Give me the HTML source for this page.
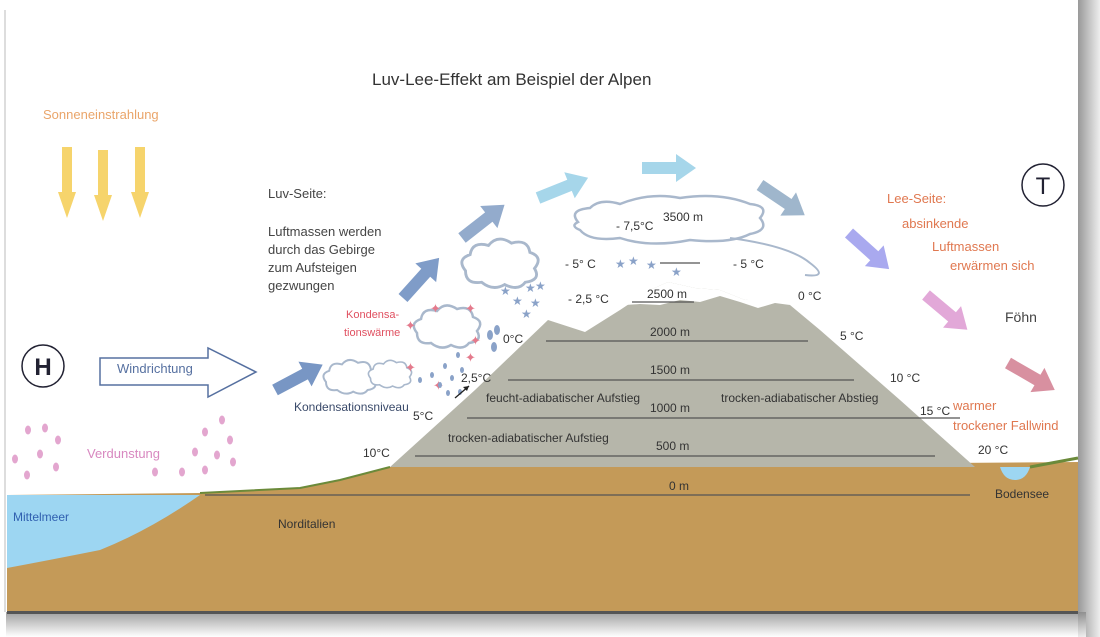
<!DOCTYPE html>
<html><head><meta charset="utf-8"><style>
html,body{margin:0;padding:0;background:#fff;}
svg{display:block;font-family:"Liberation Sans",sans-serif;}
</style></head><body>
<svg width="1100" height="637" viewBox="0 0 1100 637" xmlns="http://www.w3.org/2000/svg">
<defs>
<linearGradient id="sh" x1="0" x2="0" y1="0" y2="1"><stop offset="0" stop-color="#888"/><stop offset="1" stop-color="#fff"/></linearGradient>
<linearGradient id="shr" x1="0" x2="1" y1="0" y2="0"><stop offset="0" stop-color="#999"/><stop offset="1" stop-color="#eee"/></linearGradient>
<g id="ar"><polygon points="0,-6 34,-6 34,-14 54,0 34,14 34,6 0,6"/></g>
<g id="cl"><path d="M-30,5 q-8,-10 4,-14 q2,-12 16,-8 q8,-10 20,-2 q14,-4 16,8 q12,4 4,14 q6,10 -8,12 q-6,8 -18,2 q-10,6 -20,-2 q-14,2 -14,-10z" fill="#fff" stroke="#a9b8cc" stroke-width="2.5"/></g>
</defs>
<rect x="1078" y="0" width="22" height="637" fill="url(#shr)"/>
<rect x="6" y="612" width="1080" height="25" fill="url(#sh)" opacity="0.8"/>
<line x1="5" y1="10" x2="5" y2="612" stroke="#ddd" stroke-width="2"/>
<path d="M7,495 L200,493 L300,488 L340,480 L390,467 L1078,462 L1078,614 L7,614Z" fill="#c49a58"/>
<path d="M200,493 L300,488 L340,480 L390,467" fill="none" stroke="#6b8a3a" stroke-width="2"/>
<path d="M1030,467 L1078,458" fill="none" stroke="#6b8a3a" stroke-width="3"/>
<path d="M7,495 L200,495 Q150,530 100,550 Q50,560 7,568Z" fill="#9dd6f2"/>
<path d="M1000,467 L1030,467 Q1026,480 1015,480 Q1004,480 1000,467Z" fill="#9dd6f2"/>
<rect x="7" y="611" width="1071" height="3" fill="#555"/>
<path d="M390,467 L475,390 L548,320 L585,332 L620,310 L650,290 L668,282 L695,288 L720,290 L745,300 L770,298 L790,305 L820,330 L900,400 L975,467Z" fill="#b6b6aa"/>
<path d="M625,305 L650,290 L668,282 L695,288 L720,290 L745,300 L770,296 L790,305 L775,303 L758,308 L740,302 L720,296 L700,302 L680,300 L660,305 L640,304Z" fill="#fff"/>
<g stroke="#555" stroke-width="1.3">
<line x1="205" y1="495" x2="970" y2="495"/>
<line x1="415" y1="456" x2="935" y2="456"/>
<line x1="467" y1="418" x2="960" y2="418"/>
<line x1="508" y1="380" x2="854" y2="380"/>
<line x1="546" y1="341" x2="808" y2="341"/>
<line x1="632" y1="302" x2="694" y2="302"/>
<line x1="660" y1="263" x2="700" y2="263"/>
<line x1="663" y1="224" x2="702" y2="224"/>
</g>
<path d="M578,222 q-10,-12 12,-14 q10,-10 30,-4 q30,-12 60,-6 q40,-6 70,6 q20,2 10,14 q10,12 -10,16 q-20,10 -60,6 q-40,8 -70,-2 q-30,4 -40,-8 q-10,-4 -2,-8z" fill="#fff" stroke="#a9b8cc" stroke-width="2.5"/>
<path d="M730,238 q60,8 80,25 q20,15 -5,12" fill="none" stroke="#a9b8cc" stroke-width="2"/>
<use href="#cl" transform="translate(500,265) scale(1.15)"/>
<use href="#cl" transform="translate(447,328) scale(1.0)"/>
<use href="#cl" transform="translate(350,378) scale(0.8)"/>
<use href="#cl" transform="translate(390,375) scale(0.65)"/>
<g fill="#8aa2c8" font-size="12">
<text x="615" y="268">★</text><text x="628" y="265">★</text><text x="646" y="269">★</text><text x="671" y="276">★</text>
<text x="500" y="295">★</text><text x="525" y="292">★</text><text x="535" y="290">★</text><text x="512" y="305">★</text><text x="530" y="307">★</text><text x="521" y="318">★</text>
</g>
<g fill="#e47a8c" font-size="13">
<text x="430" y="313">✦</text><text x="465" y="313">✦</text><text x="405" y="330">✦</text><text x="470" y="345">✦</text><text x="405" y="372">✦</text><text x="465" y="362">✦</text><text x="433" y="390">✦</text>
</g>
<g fill="#8aa2c8">
<ellipse cx="490" cy="335" rx="3" ry="5"/><ellipse cx="497" cy="330" rx="3" ry="5"/><ellipse cx="494" cy="347" rx="3" ry="5"/>
<ellipse cx="420" cy="380" rx="2" ry="3"/><ellipse cx="432" cy="375" rx="2" ry="3"/><ellipse cx="445" cy="366" rx="2" ry="3"/>
<ellipse cx="458" cy="355" rx="2" ry="3"/><ellipse cx="440" cy="385" rx="2" ry="3"/><ellipse cx="452" cy="378" rx="2" ry="3"/>
<ellipse cx="462" cy="370" rx="2" ry="3"/><ellipse cx="448" cy="393" rx="2" ry="3"/><ellipse cx="460" cy="392" rx="2" ry="3"/>
</g>
<line x1="455" y1="398" x2="469" y2="386" stroke="#222" stroke-width="1.3"/>
<polygon points="469,386 463,387 467,391" fill="#222"/>
<g fill="#e3a6cf">
<ellipse cx="28" cy="430" rx="3" ry="4.5"/><ellipse cx="45" cy="428" rx="3" ry="4.5"/><ellipse cx="58" cy="440" rx="3" ry="4.5"/>
<ellipse cx="15" cy="459" rx="3" ry="4.5"/><ellipse cx="40" cy="454" rx="3" ry="4.5"/><ellipse cx="56" cy="467" rx="3" ry="4.5"/>
<ellipse cx="27" cy="475" rx="3" ry="4.5"/><ellipse cx="205" cy="432" rx="3" ry="4.5"/><ellipse cx="222" cy="420" rx="3" ry="4.5"/>
<ellipse cx="230" cy="440" rx="3" ry="4.5"/><ellipse cx="195" cy="452" rx="3" ry="4.5"/><ellipse cx="217" cy="455" rx="3" ry="4.5"/>
<ellipse cx="233" cy="462" rx="3" ry="4.5"/><ellipse cx="205" cy="470" rx="3" ry="4.5"/><ellipse cx="155" cy="472" rx="3" ry="4.5"/><ellipse cx="182" cy="472" rx="3" ry="4.5"/>
</g>
<g fill="#f6d46c">
<polygon points="62,147 72,147 72,192 76,192 67,218 58,192 62,192"/>
<polygon points="98,150 108,150 108,195 112,195 103,221 94,195 98,195"/>
<polygon points="135,147 145,147 145,192 149,192 140,218 131,192 135,192"/>
</g>
<polygon points="100,358 208,358 208,348 256,372 208,397 208,385 100,385" fill="#fff" stroke="#5670a0" stroke-width="1.5"/>
<use href="#ar" fill="#7896c4" transform="translate(275,390) rotate(-28)"/>
<use href="#ar" fill="#7f9cc8" transform="translate(403,298) rotate(-48)"/>
<use href="#ar" fill="#93abcc" transform="translate(462,238) rotate(-38)"/>
<use href="#ar" fill="#a6d6ea" transform="translate(538,198) rotate(-22)"/>
<use href="#ar" fill="#a6d6ea" transform="translate(642,168) rotate(0)"/>
<use href="#ar" fill="#9fb6cc" transform="translate(760,185) rotate(34)"/>
<use href="#ar" fill="#a9a9ef" transform="translate(849,233) rotate(42)"/>
<use href="#ar" fill="#e2a8d8" transform="translate(926,295) rotate(40)"/>
<use href="#ar" fill="#d890a0" transform="translate(1008,363) rotate(30)"/>
<circle cx="43" cy="366" r="21" fill="#fff" stroke="#223" stroke-width="1.5"/>
<text x="43" y="375" font-size="24" text-anchor="middle" fill="#223" font-weight="bold">H</text>
<circle cx="1043" cy="185" r="21" fill="#fff" stroke="#223" stroke-width="1.5"/>
<text x="1043" y="194" font-size="24" text-anchor="middle" fill="#223">T</text>
<text x="372" y="85" font-size="17" fill="#333">Luv-Lee-Effekt am Beispiel der Alpen</text>
<text x="43" y="119" font-size="13" fill="#eaa56a">Sonneneinstrahlung</text>
<g font-size="13" fill="#444">
<text x="268" y="198">Luv-Seite:</text>
<text x="268" y="236">Luftmassen werden</text>
<text x="268" y="254">durch das Gebirge</text>
<text x="268" y="272">zum Aufsteigen</text>
<text x="268" y="290">gezwungen</text>
</g>
<text x="117" y="373" font-size="13" fill="#5670a0">Windrichtung</text>
<text x="346" y="318" font-size="11" fill="#e05060">Kondensa-</text>
<text x="344" y="336" font-size="11" fill="#e05060">tionswärme</text>
<text x="294" y="411" font-size="12" fill="#3a4a6a">Kondensationsniveau</text>
<text x="87" y="458" font-size="13" fill="#d888c0">Verdunstung</text>
<text x="13" y="521" font-size="12" fill="#3060b0">Mittelmeer</text>
<text x="278" y="528" font-size="12" fill="#333">Norditalien</text>
<g font-size="12" fill="#333">
<text x="363" y="457">10°C</text>
<text x="413" y="420">5°C</text>
<text x="461" y="382">2,5°C</text>
<text x="503" y="343">0°C</text>
<text x="568" y="303">- 2,5 °C</text>
<text x="565" y="268">- 5° C</text>
<text x="616" y="230">- 7,5°C</text>
<text x="663" y="221">3500 m</text>
<text x="647" y="298">2500 m</text>
<text x="650" y="336">2000 m</text>
<text x="650" y="374">1500 m</text>
<text x="650" y="412">1000 m</text>
<text x="656" y="450">500 m</text>
<text x="669" y="490">0 m</text>
<text x="486" y="402">feucht-adiabatischer Aufstieg</text>
<text x="448" y="442">trocken-adiabatischer Aufstieg</text>
<text x="721" y="402">trocken-adiabatischer Abstieg</text>
<text x="733" y="268">- 5 °C</text>
<text x="798" y="300">0 °C</text>
<text x="840" y="340">5 °C</text>
<text x="890" y="382">10 °C</text>
<text x="920" y="415">15 °C</text>
<text x="978" y="454">20 °C</text>
<text x="995" y="498">Bodensee</text>
</g>
<g font-size="13" fill="#e07850">
<text x="887" y="203">Lee-Seite:</text>
<text x="902" y="228">absinkende</text>
<text x="932" y="251">Luftmassen</text>
<text x="950" y="270">erwärmen sich</text>
<text x="953" y="410">warmer</text>
<text x="953" y="430">trockener Fallwind</text>
</g>
<text x="1005" y="322" font-size="14" fill="#444">Föhn</text>
</svg>
</body></html>
